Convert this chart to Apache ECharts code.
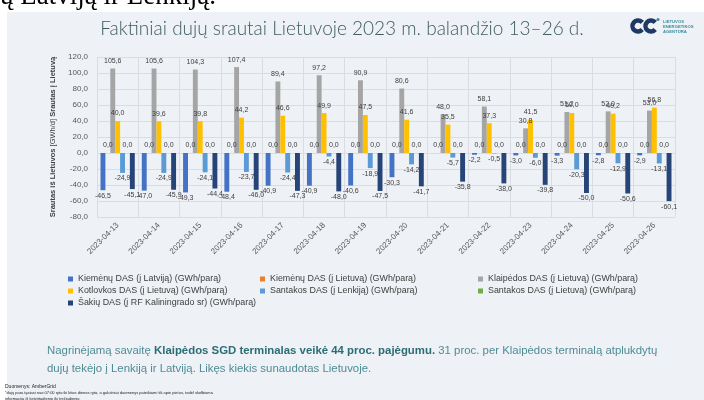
<!DOCTYPE html>
<html><head><meta charset="utf-8">
<script src="https://cdn.jsdelivr.net/npm/echarts@6/dist/echarts.min.js"></script>
<style>html,body{margin:0;padding:0;background:#fff}#c{width:704px;height:400px}</style>
</head><body><div id="c"></div>
<script>
const dates = ['2023-04-13','2023-04-14','2023-04-15','2023-04-16','2023-04-17','2023-04-18','2023-04-19','2023-04-20','2023-04-21','2023-04-22','2023-04-23','2023-04-24','2023-04-25','2023-04-26'];
const seriesNames = ['Kiemėnų DAS (į Latviją) (GWh/parą)','Kiemėnų DAS (į Lietuvą) (GWh/parą)','Klaipėdos DAS (į Lietuvą) (GWh/parą)','Kotlovkos DAS (į Lietuvą) (GWh/parą)','Santakos DAS (į Lenkiją) (GWh/parą)','Santakos DAS (į Lietuvą) (GWh/parą)','Šakių DAS (į RF Kaliningrado sr) (GWh/parą)'];
const kiemenaiLatvija = [-46.5,-47.0,-49.3,-48.4,-40.9,-40.9,-40.6,-30.3,null,-2.2,-3.0,-3.3,-2.8,-2.9];
const kiemenaiLietuva = [0,0,0,0,0,0,0,0,0,0,0,0,0,0];
const klaipeda = [105.6,105.6,104.3,107.4,89.4,97.2,90.9,80.6,48.0,58.1,30.8,51.2,52.0,53.0];
const kotlovka = [40.0,39.6,39.8,44.2,46.6,49.9,47.5,41.6,35.5,37.3,41.5,50.0,49.2,56.8];
const santakaLenkija = [-24.9,-24.9,-24.1,-23.7,-24.4,-4.4,-18.9,-14.2,-5.7,-0.5,-6.0,-20.3,-12.9,-13.1];
const santakaLietuva = [0,0,0,0,0,0,0,0,0,0,0,0,0,0];
const sakiai = [-45.1,-45.9,-44.4,-46.0,-47.3,-48.0,-47.5,-41.7,-35.8,-38.0,-39.8,-50.0,-50.6,-60.1];
const yTicks = {min:-80, max:120, interval:20};

const colors = ['#4472C4','#ED7D31','#A5A5A5','#FFC000','#5B9BD5','#70AD47','#264478'];
const dataSets = [kiemenaiLatvija,kiemenaiLietuva,klaipeda,kotlovka,santakaLenkija,santakaLietuva,sakiai];
const negative = [true,false,false,false,true,false,true];
const fmt = v => (v==null?'':Number(v).toFixed(1).replace('.',','));
const F = 'Liberation Sans, Arial, sans-serif';

const series = dataSets.map((d,i)=>({
  name: seriesNames[i], type:'bar', data:d,
  barGap:'0%', barCategoryGap:'17%',
  itemStyle:{color:colors[i]},
  label:{show:true, position: negative[i]?'bottom':'top', distance: negative[i]?2:4,
    formatter:p=>fmt(p.value), fontSize:7, color:'#404040', fontFamily:F},
  emphasis:{disabled:true}
}));

const chart = echarts.init(document.getElementById('c'), null, {renderer:'canvas'});
const legendBase = {orient:'vertical', icon:'rect', itemWidth:5, itemHeight:5, itemGap:2,
  textStyle:{fontSize:8.9, color:'#404040', fontFamily:F, lineHeight:10}, selectedMode:false};
chart.setOption({
  backgroundColor:'#ffffff',
  animation:false,
  textStyle:{fontFamily:F},
  graphic:[
    {type:'rect', z:-10, shape:{x:7,y:12,width:697,height:388}, style:{fill:'#eef1f5'}},
    {type:'text', x:0, y:-3, z:5, style:{text:'ų Latviją ir Lenkiją.', font:'27px "Liberation Serif", serif', fill:'#000', verticalAlign:'middle'}},
    {type:'text', x:342, y:29, style:{text:'Faktiniai dujų srautai Lietuvoje 2023 m. balandžio 13–26 d.', fill:'#3e5c60', font:'300 19px Lato, sans-serif', align:'center', verticalAlign:'middle'}},
    {type:'arc', shape:{cx:638,cy:26,r:5.5,startAngle:0.7,endAngle:-0.7,clockwise:true}, style:{stroke:'#1f3864',lineWidth:4.5,fill:null}},
    {type:'arc', shape:{cx:651,cy:26,r:5.5,startAngle:0.7,endAngle:-0.7,clockwise:true}, style:{stroke:'#1f3864',lineWidth:4.5,fill:null}},
    {type:'circle', shape:{cx:658,cy:19.5,r:1.6}, style:{fill:'#3a8fa0'}},
    {type:'text', x:663, y:19, style:{text:'LIETUVOS\nENERGETIKOS\nAGENTŪRA', font:'bold 4.2px '+F, fill:'#3a8fa0', lineHeight:5}},
    {type:'text', x:47, y:351, style:{text:'{n|Nagrinėjamą savaitę }{b|Klaipėdos SGD terminalas veikė 44 proc. pajėgumu.}{n| 31 proc. per Klaipėdos terminalą atplukdytų}',
      verticalAlign:'middle', fill:'#4f8c94', rich:{n:{fontSize:11.4, fontFamily:F, fill:'#4f8c94'}, b:{fontSize:11.4, fontFamily:F, fontWeight:'bold', fill:'#2b6d75'}}}},
    {type:'text', x:47, y:369, style:{text:'dujų tekėjo į Lenkiją ir Latviją. Likęs kiekis sunaudotas Lietuvoje.', verticalAlign:'middle', font:'11.4px '+F, fill:'#4f8c94'}},
    {type:'text', x:5, y:387, style:{text:'Duomenys: AmberGrid', verticalAlign:'middle', font:'5px '+F, fill:'#222'}},
    {type:'text', x:5, y:393, style:{text:'*dujų para tęsiasi nuo 07:00 ryto iki kitos dienos ryto, o galutiniai duomenys pateikiami tik apie pietus, todėl skelbiama', verticalAlign:'middle', font:'4px '+F, fill:'#222'}},
    {type:'text', x:5, y:399, style:{text:'informacija iš ketvirtadienio iki trečiadienio', verticalAlign:'middle', font:'4px '+F, fill:'#222'}}
  ],
  grid:{left:97, right:29, top:57, bottom:183, containLabel:false},
  legend:[
    Object.assign({left:63, top:269, data:[seriesNames[0],seriesNames[3],seriesNames[6]]}, legendBase),
    Object.assign({left:255, top:269, data:[seriesNames[1],seriesNames[4]]}, legendBase),
    Object.assign({left:473, top:269, data:[seriesNames[2],seriesNames[5]]}, legendBase)
  ],
  xAxis:{type:'category', data:dates, boundaryGap:true,
    axisLine:{show:false, onZero:false}, axisTick:{show:false},
    splitLine:{show:true, lineStyle:{color:'#d9dce1', width:1}},
    axisLabel:{rotate:45, fontSize:8, color:'#595959', margin:7, fontFamily:F, interval:0}},
  yAxis:{type:'value', min:yTicks.min, max:yTicks.max, interval:yTicks.interval,
    axisLine:{show:false}, axisTick:{show:false},
    splitLine:{lineStyle:{color:'#d9dce1', width:1}},
    axisLabel:{formatter:v=>fmt(v), fontSize:8, color:'#595959', margin:9, fontFamily:F},
    name:'{b|Srautas iš Lietuvos} [GWh/d] {b|Srautas į Lietuvą}', nameLocation:'middle', nameRotate:90, nameGap:35,
    nameTextStyle:{fontSize:7.5, color:'#404040', fontFamily:F, rich:{b:{fontSize:7.5, fontWeight:'bold', color:'#404040', fontFamily:F}}}},
  series: series
});
</script></body></html>
